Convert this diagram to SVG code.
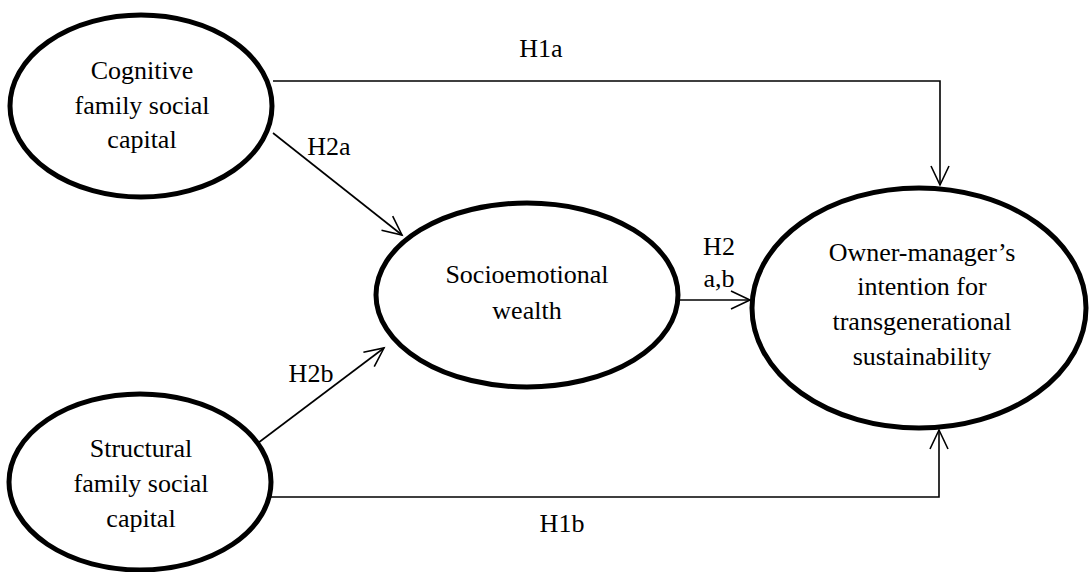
<svg xmlns="http://www.w3.org/2000/svg" width="1091" height="572" viewBox="0 0 1091 572">
<style>
.node{fill:#fff;stroke:#000;stroke-width:5}
.lbl{font-family:'Liberation Serif','DejaVu Serif',serif;font-size:26px;fill:#000;text-anchor:middle}
.con{fill:none;stroke:#000;stroke-width:1.6}
.wm{fill:#f2f2f2}
</style>
<defs>
<marker id="arr" markerUnits="userSpaceOnUse" markerWidth="30" markerHeight="30" viewBox="-25 -15 30 30" refX="0" refY="0" orient="auto">
<path d="M-19,-9 L0,0 L-19,9" fill="none" stroke="#000" stroke-width="1.6"/>
</marker>
</defs>
<rect width="1091" height="572" fill="#fff"/>
<g id="connectors">
<polyline class="con" points="273,81 940,81 940,185" marker-end="url(#arr)"/>
<polyline class="con" points="271,497 939,497 939,430" marker-end="url(#arr)"/>
<line class="con" x1="273" y1="133" x2="402" y2="235" marker-end="url(#arr)"/>
<line class="con" x1="258" y1="443" x2="384" y2="348" marker-end="url(#arr)"/>
<line class="con" x1="678" y1="300" x2="750" y2="300" marker-end="url(#arr)"/>
<text class="lbl" font-family="Liberation Serif" x="541" y="57">H1a</text>
<text class="lbl" font-family="Liberation Serif" x="329" y="155">H2a</text>
<text class="lbl" font-family="Liberation Serif" x="311" y="382">H2b</text>
<text class="lbl" font-family="Liberation Serif" x="562" y="532">H1b</text>
<text class="lbl" font-family="Liberation Serif" x="719" y="255">H2</text>
<text class="lbl" font-family="Liberation Serif" x="719" y="287">a,b</text>
</g>
<g id="cognitive">
<ellipse class="node" cx="141" cy="106" rx="131" ry="91"/>
<text class="lbl" font-family="Liberation Serif" x="142" y="79">Cognitive</text>
<text class="lbl" font-family="Liberation Serif" x="142" y="114">family social</text>
<text class="lbl" font-family="Liberation Serif" x="142" y="148">capital</text>
</g>
<g id="structural">
<ellipse class="node" cx="140" cy="482" rx="131" ry="88"/>
<text class="lbl" font-family="Liberation Serif" x="141" y="457">Structural</text>
<text class="lbl" font-family="Liberation Serif" x="141" y="492">family social</text>
<text class="lbl" font-family="Liberation Serif" x="141" y="527">capital</text>
</g>
<g id="socioemotional">
<ellipse class="node" cx="527" cy="295" rx="151" ry="92"/>
<text class="lbl" font-family="Liberation Serif" x="527" y="283">Socioemotional</text>
<text class="lbl" font-family="Liberation Serif" x="527" y="319">wealth</text>
</g>
<g id="owner">
<ellipse class="node" cx="919" cy="308" rx="167" ry="120"/>
<text class="lbl" font-family="Liberation Serif" x="922" y="261">Owner-manager’s</text>
<text class="lbl" font-family="Liberation Serif" x="922" y="295">intention for</text>
<text class="lbl" font-family="Liberation Serif" x="922" y="330">transgenerational</text>
<text class="lbl" font-family="Liberation Serif" x="922" y="365">sustainability</text>
</g>
</svg>
